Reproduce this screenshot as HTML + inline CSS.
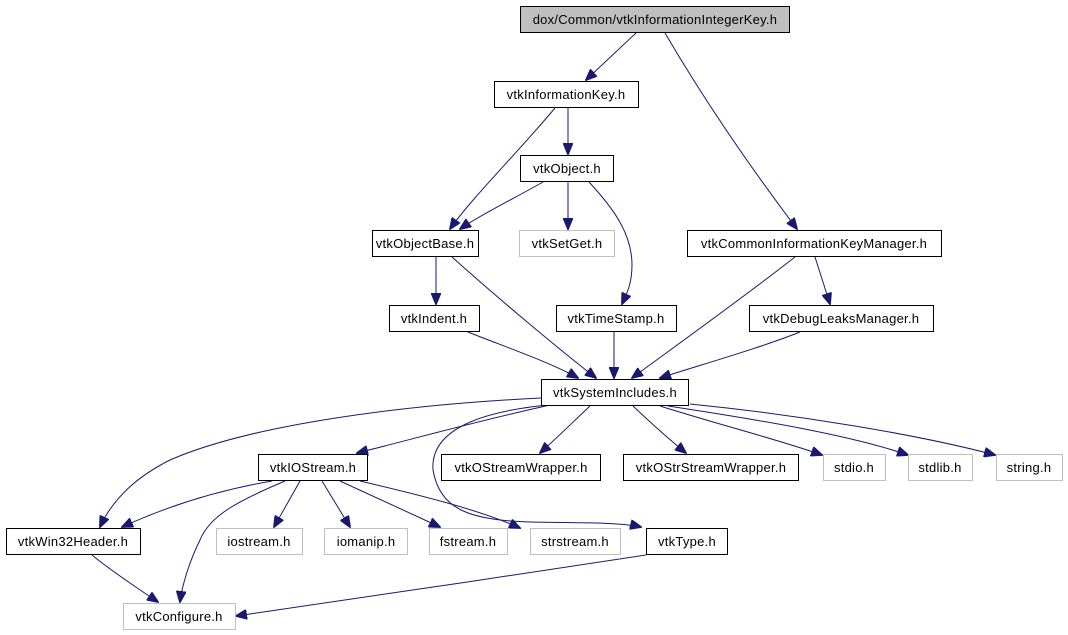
<!DOCTYPE html>
<html><head><meta charset="utf-8"><style>
html,body{margin:0;padding:0;background:#fff;}
svg{display:block;}
text{font-family:"Liberation Sans",Helvetica,sans-serif;font-size:13px;letter-spacing:0.25px;fill:#000;}
.e{fill:none;stroke:#191970;stroke-width:1;marker-end:url(#a);}
.b{fill:#fff;stroke:#000;stroke-width:1;}
.g{fill:#fff;stroke:#bfbfbf;stroke-width:1;}
</style></head><body>
<svg width="1068" height="635" viewBox="0 0 1068 635" xmlns="http://www.w3.org/2000/svg">
<defs><marker id="a" markerWidth="12" markerHeight="10" refX="11" refY="5" orient="auto" markerUnits="userSpaceOnUse"><path d="M0,0 L12,5 L0,10 z" fill="#191970" stroke="#191970"/></marker></defs>

<path class="e" d="M636,33 L586,80"/>
<path class="e" d="M665,33 C710,110 760,180 797,229"/>
<path class="e" d="M555,108 C520,150 470,200 450,229"/>
<path class="e" d="M568,108 L568,154"/>
<path class="e" d="M543,182 C515,198 480,215 460,229"/>
<path class="e" d="M568,182 L568,229"/>
<path class="e" d="M589,182 C615,210 632,235 632,265 C632,285 626,295 622,304"/>
<path class="e" d="M436,257 L436,304"/>
<path class="e" d="M452,257 C500,300 560,350 596,378"/>
<path class="e" d="M468,332 C500,345 550,362 578,378"/>
<path class="e" d="M614,332 L614,378"/>
<path class="e" d="M795,257 C740,300 670,350 632,378"/>
<path class="e" d="M815,257 L830,304"/>
<path class="e" d="M800,332 C760,348 700,365 660,378"/>

<path class="e" d="M541,398 C400,405 250,425 170,460 C130,480 110,505 100,527"/>
<path class="e" d="M555,404 C480,420 410,440 357,453"/>
<path class="e" d="M560,404 C480,410 430,430 433,470 C440,510 470,520 530,522 C580,523 620,522 641,527"/>
<path class="e" d="M590,406 C575,420 560,435 540,453"/>
<path class="e" d="M633,406 C650,422 670,440 686,453"/>
<path class="e" d="M660,406 C720,425 780,440 822,455"/>
<path class="e" d="M668,406 C760,420 850,435 908,455"/>
<path class="e" d="M690,404 C800,415 920,435 995,455"/>

<path class="e" d="M272,481 C220,490 170,505 122,527"/>
<path class="e" d="M285,481 C240,500 210,515 200,540 C190,560 182,585 180,602"/>
<path class="e" d="M300,481 L274,527"/>
<path class="e" d="M322,481 L350,527"/>
<path class="e" d="M340,481 L440,527"/>
<path class="e" d="M360,481 C420,495 480,510 520,528"/>
<path class="e" d="M92,555 C110,570 140,590 158,602"/>
<path class="e" d="M646,555 C520,575 340,600 236,616"/>

<rect x="520.5" y="6.5" width="269" height="26" fill="#bfbfbf" stroke="#000"/><text x="655" y="24" text-anchor="middle">dox/Common/vtkInformationIntegerKey.h</text>
<rect class="b" x="494.5" y="81.5" width="144" height="26"/><text x="566" y="99" text-anchor="middle">vtkInformationKey.h</text>
<rect class="b" x="520.5" y="155.5" width="93" height="26"/><text x="567" y="173" text-anchor="middle">vtkObject.h</text>
<rect class="b" x="372.5" y="230.5" width="106" height="26"/><text x="425" y="248" text-anchor="middle">vtkObjectBase.h</text>
<rect class="g" x="519.5" y="230.5" width="95" height="26"/><text x="567" y="248" text-anchor="middle">vtkSetGet.h</text>
<rect class="b" x="687.5" y="230.5" width="254" height="26"/><text x="814" y="248" text-anchor="middle">vtkCommonInformationKeyManager.h</text>
<rect class="b" x="389.5" y="305.5" width="90" height="26"/><text x="434" y="323" text-anchor="middle">vtkIndent.h</text>
<rect class="b" x="556.5" y="305.5" width="120" height="26"/><text x="616" y="323" text-anchor="middle">vtkTimeStamp.h</text>
<rect class="b" x="749.5" y="305.5" width="184" height="26"/><text x="841" y="323" text-anchor="middle">vtkDebugLeaksManager.h</text>
<rect class="b" x="541.5" y="379.5" width="147" height="26"/><text x="615" y="397" text-anchor="middle">vtkSystemIncludes.h</text>
<rect class="b" x="258.5" y="454.5" width="109" height="26"/><text x="313" y="472" text-anchor="middle">vtkIOStream.h</text>
<rect class="b" x="441.5" y="454.5" width="159" height="26"/><text x="521" y="472" text-anchor="middle">vtkOStreamWrapper.h</text>
<rect class="b" x="623.5" y="454.5" width="175" height="26"/><text x="711" y="472" text-anchor="middle">vtkOStrStreamWrapper.h</text>
<rect class="g" x="823.5" y="454.5" width="62" height="26"/><text x="854" y="472" text-anchor="middle">stdio.h</text>
<rect class="g" x="908.5" y="454.5" width="64" height="26"/><text x="940" y="472" text-anchor="middle">stdlib.h</text>
<rect class="g" x="996.5" y="454.5" width="66" height="26"/><text x="1029" y="472" text-anchor="middle">string.h</text>
<rect class="b" x="6.5" y="528.5" width="134" height="26"/><text x="73" y="546" text-anchor="middle">vtkWin32Header.h</text>
<rect class="g" x="216.5" y="528.5" width="86" height="26"/><text x="259" y="546" text-anchor="middle">iostream.h</text>
<rect class="g" x="324.5" y="528.5" width="83" height="26"/><text x="366" y="546" text-anchor="middle">iomanip.h</text>
<rect class="g" x="429.5" y="528.5" width="78" height="26"/><text x="468" y="546" text-anchor="middle">fstream.h</text>
<rect class="g" x="530.5" y="528.5" width="90" height="26"/><text x="575" y="546" text-anchor="middle">strstream.h</text>
<rect class="b" x="646.5" y="528.5" width="81" height="26"/><text x="687" y="546" text-anchor="middle">vtkType.h</text>
<rect class="g" x="123.5" y="603.5" width="112" height="26"/><text x="179" y="621" text-anchor="middle">vtkConfigure.h</text>
</svg>
</body></html>
